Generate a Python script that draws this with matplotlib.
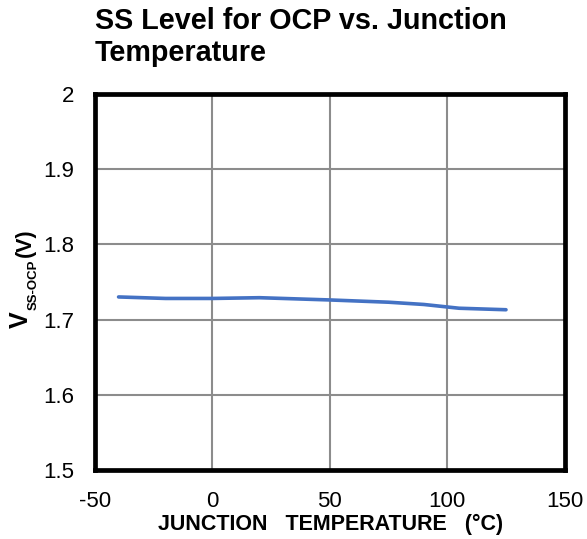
import matplotlib.pyplot as plt

plt.rcParams["font.family"] = ["Liberation Sans", "DejaVu Sans"]
plt.rcParams["axes.unicode_minus"] = False


# data

temperature = [-40, -20, 0, 20, 50, 75, 90, 105, 125]
v_ss_ocp = [1.730, 1.728, 1.728, 1.729, 1.726, 1.723, 1.720, 1.715, 1.713]

x_ticks = [-50, 0, 50, 100, 150]
y_ticks = [1.5, 1.6, 1.7, 1.8, 1.9, 2.0]
y_tick_labels = ["1.5", "1.6", "1.7", "1.8", "1.9", "2"]


# plot

W, H = 587, 539
fig = plt.figure(figsize=(W / 100, H / 100), dpi=100)
ax = fig.add_axes([0.162, 0.128, 0.8, 0.698])

ax.plot(
    temperature,
    v_ss_ocp,
    color="#4472C4",
    linewidth=2.6,
    solid_capstyle="round"
)

ax.set_xlim(-50, 150)
ax.set_ylim(1.5, 2.0)
ax.set_xticks(x_ticks)
ax.set_yticks(y_ticks)
ax.set_yticklabels(y_tick_labels)

ax.grid(True, color="#8c8c8c", linewidth=1.5)
ax.set_axisbelow(True)
ax.tick_params(length=0, labelsize=16)
ax.tick_params(axis="x", pad=15)
ax.tick_params(axis="y", pad=15)

for spine in ax.spines.values():
    spine.set_linewidth(3.4)
    spine.set_color("black")

fig.text(
    331 / W, 1 - 524 / H,
    "JUNCTION   TEMPERATURE   (°C)",
    fontsize=15.5,
    fontweight="bold",
    ha="center",
    va="center"
)

# y label built from pieces: big V, small subscript, then (V)
ylabel_parts = [
    ("V", 18, 33, 320),
    ("SS-OCP", 9.5, 40, 285),
    ("(V)", 15.5, 36, 243),
]
for txt, size, right_x, center_y in ylabel_parts:
    fig.text(
        right_x / W, 1 - center_y / H,
        txt,
        fontsize=size,
        fontweight="bold",
        rotation=90,
        ha="right",
        va="center"
    )

fig.text(
    95 / W, 1 - 7 / H,
    "SS Level for OCP vs. Junction\nTemperature",
    fontsize=20.7,
    fontweight="bold",
    ha="left",
    va="top",
    linespacing=1.2
)

fig.savefig("out.png", dpi=100)
